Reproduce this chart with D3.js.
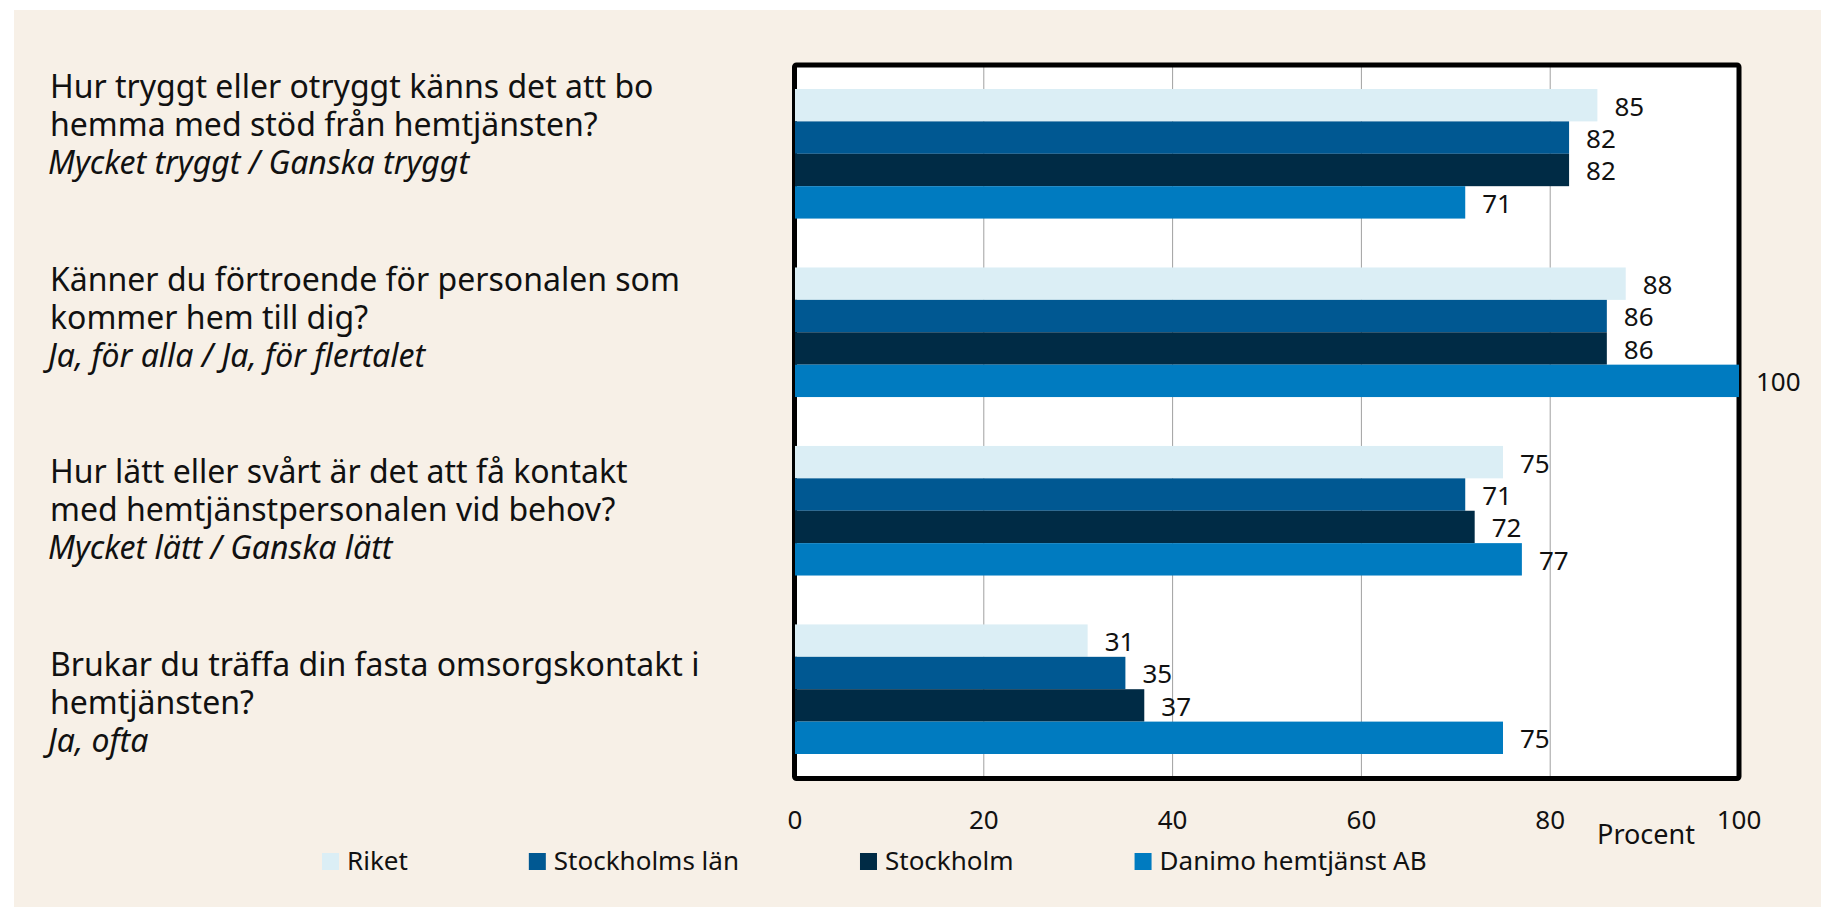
<!DOCTYPE html>
<html>
<head>
<meta charset="utf-8">
<script src="https://cdn.jsdelivr.net/npm/d3@7"></script>
<style>
  html, body { margin: 0; padding: 0; background: #fff; }
  svg { display: block; font-family: 'Noto Sans', sans-serif; }
</style>
</head>
<body>
<script>
// Questions (main lines + answer line in italics)
const questions = ['q1', 'q2', 'q3', 'q4']
const questionLines = [
  ['Hur tryggt eller otryggt känns det att bo', 'hemma med stöd från hemtjänsten?'],
  ['Känner du förtroende för personalen som', 'kommer hem till dig?'],
  ['Hur lätt eller svårt är det att få kontakt', 'med hemtjänstpersonalen vid behov?'],
  ['Brukar du träffa din fasta omsorgskontakt i', 'hemtjänsten?']
]
const answerLines = [
  'Mycket tryggt / Ganska tryggt',
  'Ja, för alla / Ja, för flertalet',
  'Mycket lätt / Ganska lätt',
  'Ja, ofta'
]

const series = ['Riket', 'Stockholms län', 'Stockholm', 'Danimo hemtjänst AB']
const riket = [85, 88, 75, 31]
const stockholmsLan = [82, 86, 71, 35]
const stockholm = [82, 86, 72, 37]
const danimo = [71, 100, 77, 75]
const xTicks = [0, 20, 40, 60, 80, 100]
const colors = ['#dbeef5', '#005892', '#002b45', '#007bc0']

const values = [riket, stockholmsLan, stockholm, danimo]

const W = 1821, H = 907
const svg = d3.select('body').append('svg')
  .attr('width', W).attr('height', H)

// beige panel
svg.append('rect')
  .attr('x', 14).attr('y', 10)
  .attr('width', W - 14).attr('height', H - 10)
  .attr('fill', '#f7f0e7')

const plot = { left: 795, right: 1739, top: 65, bottom: 778.5 }

const x = d3.scaleLinear().domain([0, 100]).range([plot.left, plot.right])
const y0 = d3.scaleBand().domain(questions).range([89, 754]).paddingInner(0.274)
const y1 = d3.scaleBand().domain(series).range([0, y0.bandwidth()])

// plot background
svg.append('rect')
  .attr('x', plot.left).attr('y', plot.top)
  .attr('width', plot.right - plot.left).attr('height', plot.bottom - plot.top)
  .attr('fill', '#fff')

// vertical gridlines
svg.append('g')
  .selectAll('line')
  .data(xTicks.slice(1, -1))
  .join('line')
  .attr('x1', d => x(d)).attr('x2', d => x(d))
  .attr('y1', plot.top).attr('y2', plot.bottom)
  .attr('stroke', '#a0a0a0')
  .attr('stroke-width', 1)

// frame
svg.append('rect')
  .attr('x', plot.left - 0.5).attr('y', plot.top)
  .attr('width', plot.right - plot.left + 0.5).attr('height', plot.bottom - plot.top)
  .attr('rx', 2)
  .attr('fill', 'none')
  .attr('stroke', '#000')
  .attr('stroke-width', 5)

// bars
const groups = svg.append('g')
  .selectAll('g')
  .data(questions)
  .join('g')
  .attr('transform', d => `translate(0,${y0(d)})`)

groups.selectAll('rect')
  .data((q, i) => series.map((s, j) => ({ s, j, v: values[j][i] })))
  .join('rect')
  .attr('x', x(0))
  .attr('y', d => y1(d.s))
  .attr('width', d => x(d.v) - x(0))
  .attr('height', y1.bandwidth())
  .attr('fill', d => colors[d.j])

groups.selectAll('text')
  .data((q, i) => series.map((s, j) => ({ s, j, v: values[j][i] })))
  .join('text')
  .attr('x', d => x(d.v) + 17)
  .attr('y', d => y1(d.s) + y1.bandwidth() / 2)
  .attr('dy', '0.4em')
  .style('font-size', '26px')
  .attr('fill', '#111')
  .text(d => d.v)

// x tick labels
svg.append('g')
  .selectAll('text')
  .data(xTicks)
  .join('text')
  .attr('x', d => x(d))
  .attr('y', 829)
  .attr('text-anchor', 'middle')
  .style('font-size', '26px')
  .attr('fill', '#111')
  .text(d => d)

svg.append('text')
  .attr('x', 1646).attr('y', 844)
  .attr('text-anchor', 'middle')
  .style('font-size', '27px')
  .attr('fill', '#111')
  .text('Procent')

// question labels, one text per line
const yq = d3.scalePoint().domain(questions).range([136, 713.5])
const qg = svg.append('g')
questions.forEach((q, i) => {
  const lines = questionLines[i]
  lines.forEach((line, k) => {
    qg.append('text')
      .attr('x', 50)
      .attr('y', yq(q) + (k - 1) * 38)
      .style('font-size', '32px')
      .attr('fill', '#111')
      .text(line)
  })
  qg.append('text')
    .attr('x', 48)
    .attr('y', yq(q) + 38)
    .style('font-size', '32px')
    .style('font-style', 'italic')
    .attr('fill', '#111')
    .text(answerLines[i])
})

// legend
const legend = svg.append('g')
let lx = 322
series.forEach((s, j) => {
  legend.append('rect')
    .attr('x', lx).attr('y', 853)
    .attr('width', 17).attr('height', 17)
    .attr('fill', colors[j])
  const t = legend.append('text')
    .attr('x', lx + 25).attr('y', 870)
    .style('font-size', '26px')
    .attr('fill', '#111')
    .text(s)
  lx += 25 + t.node().getComputedTextLength() + 121
})
</script>
</body>
</html>
